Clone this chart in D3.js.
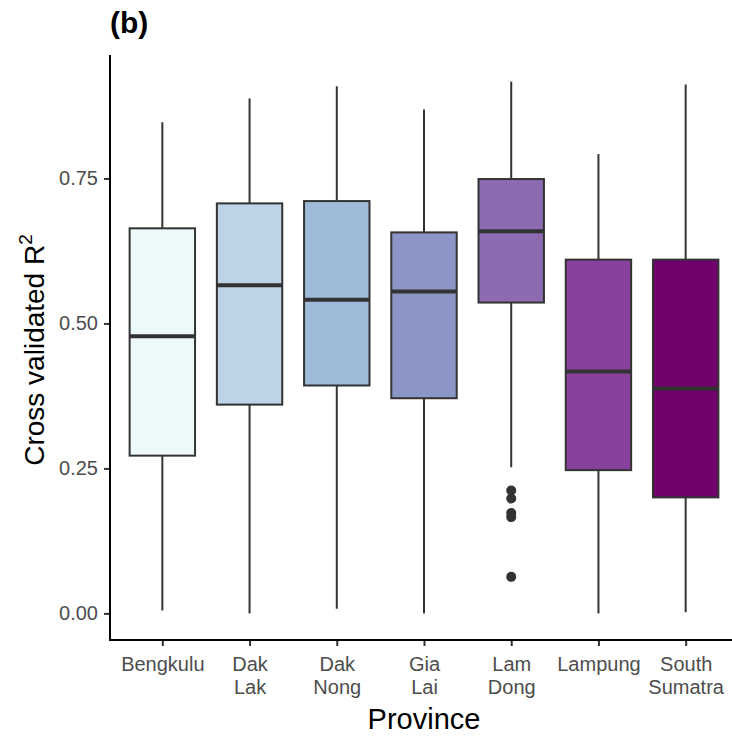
<!DOCTYPE html>
<html>
<head>
<meta charset="utf-8">
<script src="https://cdn.jsdelivr.net/npm/d3@7"></script>
<style>
  body { margin: 0; background: #fff; }
  svg { font-family: "Liberation Sans", Arial, sans-serif; }
</style>
</head>
<body>
<svg id="grafica"></svg>
<script>
// Cross validated R2 por provincia (boxplot)
const svg_w = 732;
const svg_h = 738;

// provincias (etiquetas en dos líneas)
const provinces = ["Bengkulu", "Dak Lak", "Dak Nong", "Gia Lai", "Lam Dong", "Lampung", "South Sumatra"];
const tick_lines = [["Bengkulu"], ["Dak", "Lak"], ["Dak", "Nong"], ["Gia", "Lai"], ["Lam", "Dong"], ["Lampung"], ["South", "Sumatra"]];

// estadísticos
const whisker_low = [0.005, 0.000, 0.008, 0.000, 0.252, 0.000, 0.002];
const q1          = [0.272, 0.360, 0.393, 0.371, 0.536, 0.247, 0.200];
const median      = [0.478, 0.566, 0.541, 0.555, 0.659, 0.417, 0.388];
const q3          = [0.664, 0.707, 0.711, 0.657, 0.749, 0.610, 0.610];
const whisker_high= [0.847, 0.888, 0.909, 0.869, 0.917, 0.792, 0.912];

// puntos atípicos (solo Lam Dong)
const outlier_province = ["Lam Dong", "Lam Dong", "Lam Dong", "Lam Dong", "Lam Dong"];
const outlier_value = [0.212, 0.198, 0.173, 0.166, 0.063];

const fills = ["#edf8fb", "#bfd3e6", "#9ebcda", "#8c96c6", "#8c6bb1", "#88419d", "#6e016b"];
const y_ticks = [0, 0.25, 0.5, 0.75];

const margin = {l:110, r:-6, t:55, b:98};

let svg = d3.select("#grafica")
  .attr("width", svg_w)
  .attr("height", svg_h);

let x_scale = d3.scalePoint()
  .domain(provinces)
  .range([margin.l, svg_w - margin.r])
  .padding(0.6);

let y_scale = d3.scaleLinear()
  .domain([-0.0459, 0.9629])
  .range([svg_h - margin.b, margin.t]);

const step = x_scale.step();
const box_w = step * 0.75;

let data = provinces.map((p, i) => ({
  name: p,
  lo: whisker_low[i], q1: q1[i], med: median[i], q3: q3[i], hi: whisker_high[i],
  fill: fills[i]
}));

const dark = "#333333";

let boxes = svg.append("g")
  .selectAll("g")
  .data(data)
  .enter().append("g")
  .attr("transform", d => `translate(${x_scale(d.name)},0)`);

// bigotes
boxes.append("line")
  .attr("x1", 0).attr("x2", 0)
  .attr("y1", d => y_scale(d.q3)).attr("y2", d => y_scale(d.hi))
  .attr("stroke", dark).attr("stroke-width", 2);
boxes.append("line")
  .attr("x1", 0).attr("x2", 0)
  .attr("y1", d => y_scale(d.q1)).attr("y2", d => y_scale(d.lo))
  .attr("stroke", dark).attr("stroke-width", 2);

// cajas
boxes.append("rect")
  .attr("x", -box_w/2)
  .attr("width", box_w)
  .attr("y", d => y_scale(d.q3))
  .attr("height", d => y_scale(d.q1) - y_scale(d.q3))
  .attr("fill", d => d.fill)
  .attr("stroke", dark)
  .attr("stroke-width", 2);

// mediana
boxes.append("line")
  .attr("x1", -box_w/2).attr("x2", box_w/2)
  .attr("y1", d => y_scale(d.med)).attr("y2", d => y_scale(d.med))
  .attr("stroke", dark).attr("stroke-width", 4);

// atípicos
svg.append("g")
  .selectAll("circle")
  .data(outlier_value.map((v, i) => ({p: outlier_province[i], v: v})))
  .enter().append("circle")
  .attr("cx", d => x_scale(d.p))
  .attr("cy", d => y_scale(d.v))
  .attr("r", 5)
  .attr("fill", dark);

// eje y
let y_axis = svg.append("g")
  .attr("transform", `translate(${margin.l},0)`)
  .call(d3.axisLeft(y_scale).tickValues(y_ticks).tickFormat(d3.format(".2f")).tickSize(6).tickPadding(6));
y_axis.select(".domain").remove();
y_axis.selectAll(".tick line").attr("stroke", dark).attr("stroke-width", 2);
y_axis.selectAll(".tick text").attr("fill", "#4d4d4d").style("font-size", "20px");

// eje x
let x_axis = svg.append("g")
  .attr("transform", `translate(0,${svg_h - margin.b})`)
  .call(d3.axisBottom(x_scale).tickSize(6).tickPadding(6).tickFormat(""));
x_axis.select(".domain").remove();
x_axis.selectAll(".tick line").attr("stroke", dark).attr("stroke-width", 2);
x_axis.selectAll(".tick text").remove();

x_axis.selectAll(".tick")
  .append("text")
  .attr("fill", "#4d4d4d")
  .attr("text-anchor", "middle")
  .style("font-size", "20px")
  .selectAll("tspan")
  .data((d, i) => tick_lines[i])
  .enter().append("tspan")
  .attr("x", 0)
  .attr("y", (d, j) => 31 + j * 23)
  .text(d => d);

// líneas de los ejes
svg.append("line")
  .attr("x1", margin.l).attr("x2", margin.l)
  .attr("y1", margin.t).attr("y2", svg_h - margin.b + 1)
  .attr("stroke", "black").attr("stroke-width", 2);
svg.append("line")
  .attr("x1", margin.l - 1).attr("x2", svg_w)
  .attr("y1", svg_h - margin.b).attr("y2", svg_h - margin.b)
  .attr("stroke", "black").attr("stroke-width", 2);

// títulos
svg.append("text")
  .attr("x", 424).attr("y", 729)
  .attr("text-anchor", "middle")
  .style("font-size", "29px")
  .attr("fill", "black")
  .text("Province");

let ytitle = svg.append("text")
  .attr("transform", `translate(44,350) rotate(-90)`)
  .attr("text-anchor", "middle")
  .style("font-size", "28px")
  .attr("fill", "black");
ytitle.append("tspan").text("Cross validated R");
ytitle.append("tspan").attr("dy", -12).style("font-size", "19px").text("2");

svg.append("text")
  .attr("x", 110).attr("y", 33)
  .style("font-size", "30px")
  .style("font-weight", "bold")
  .attr("fill", "black")
  .text("(b)");
</script>
</body>
</html>
